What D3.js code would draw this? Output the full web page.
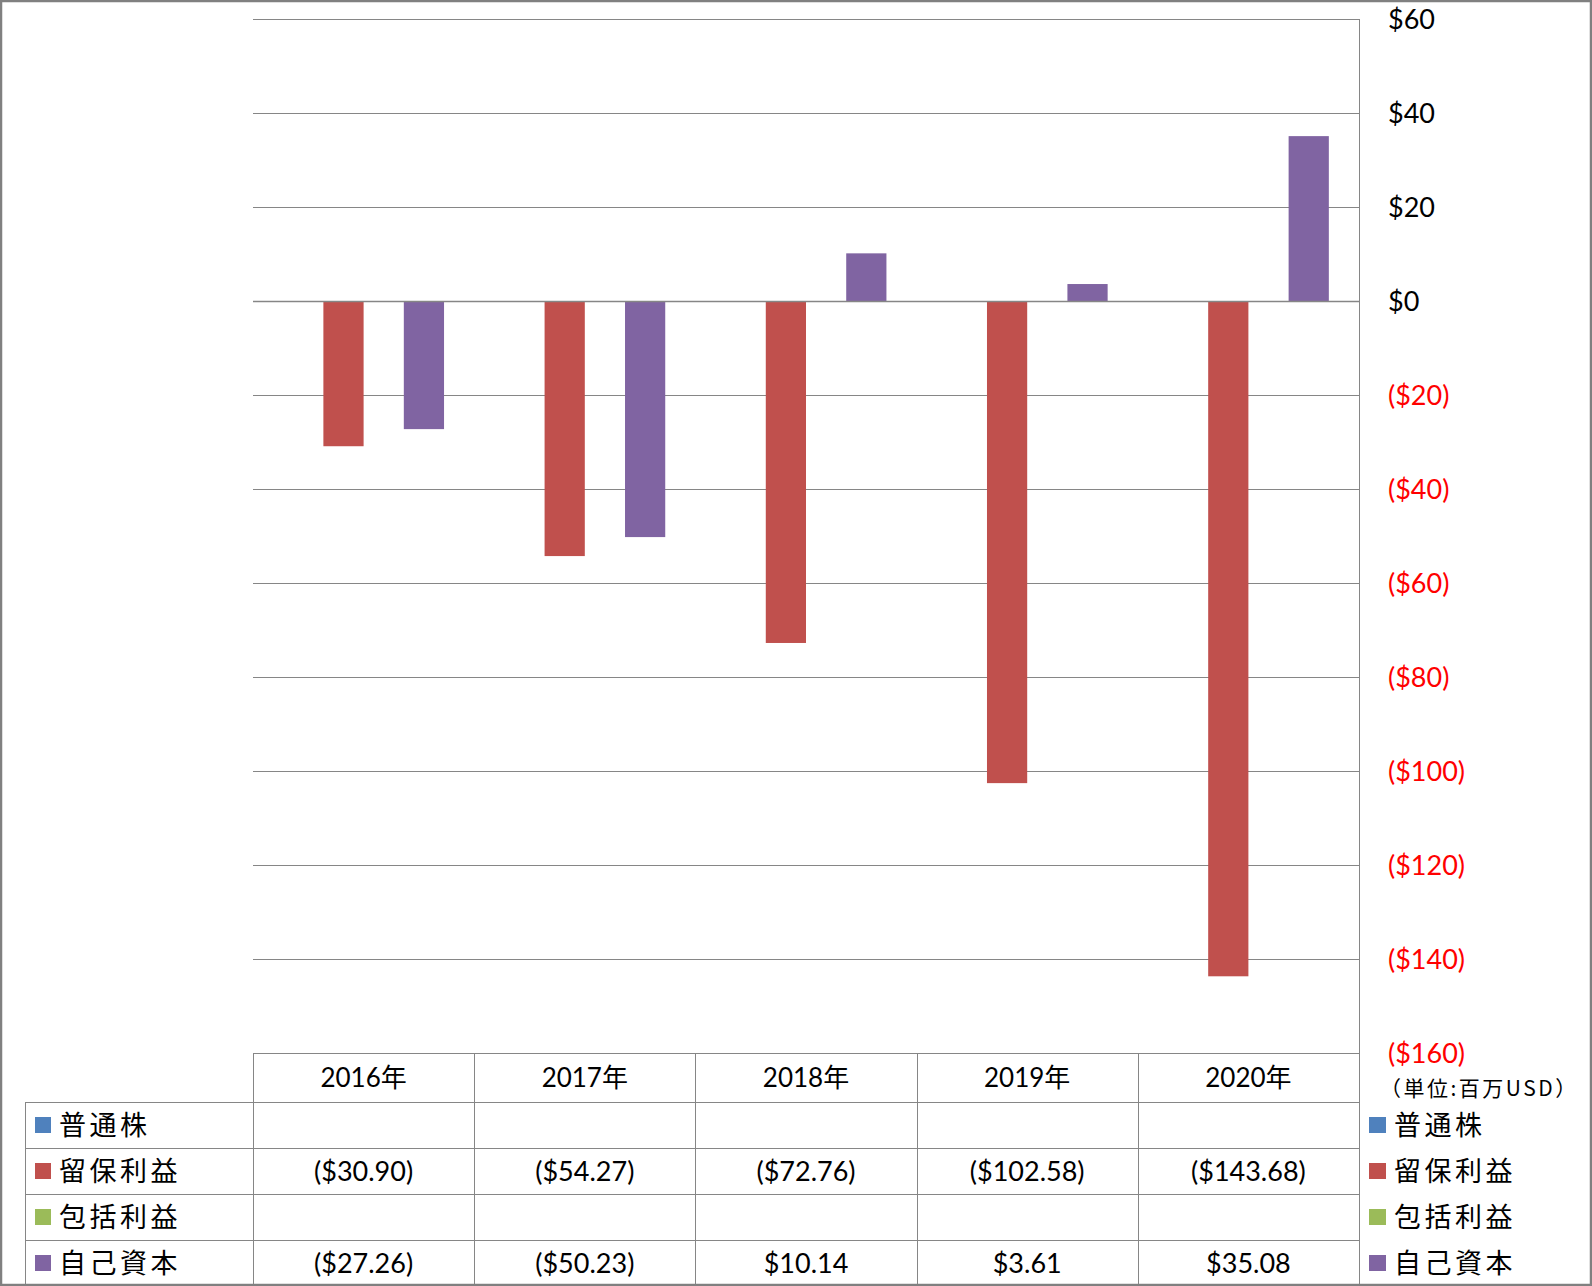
<!DOCTYPE html>
<html>
<head>
<meta charset="utf-8">
<script src="https://cdn.jsdelivr.net/npm/d3@7"></script>
<style>
  html, body { margin: 0; padding: 0; background: #fff; }
  svg { display: block; }
</style>
</head>
<body>
<svg id="chart" width="1592" height="1286"></svg>
<script>
// ---- data ----
const categories = ["2016年", "2017年", "2018年", "2019年", "2020年"];
const seriesNames = ["普通株", "留保利益", "包括利益", "自己資本"];
const seriesColors = ["#4F81BD", "#C0504D", "#9BBB59", "#8064A2"];
const commonStock = [null, null, null, null, null];
const retainedEarnings = [-30.90, -54.27, -72.76, -102.58, -143.68];
const comprehensiveIncome = [null, null, null, null, null];
const equity = [-27.26, -50.23, 10.14, 3.61, 35.08];
const yTicks = [-160, -140, -120, -100, -80, -60, -40, -20, 0, 20, 40, 60];
const unitLabel = "（単位:百万USD）";

const seriesValues = [commonStock, retainedEarnings, comprehensiveIncome, equity];

// ---- layout ----
const W = 1592, H = 1286;
const plotL = 253, plotR = 1359, plotT = 19, plotB = 1053;
const tableLeft = 25;
const headerBottom = 1102;
const rowH = (H - headerBottom) / 4;
const gridColor = "#868686";
const numFont = "Lato, 'Noto Sans CJK JP', sans-serif";
const jpFont = "'Noto Sans CJK JP', sans-serif";

const svg = d3.select("#chart");

const x0 = d3.scaleBand().domain(categories).range([plotL, plotR]).paddingInner(0).paddingOuter(0);
const x1 = d3.scaleBand().domain(seriesNames).range([0, x0.bandwidth()]).paddingInner(0).paddingOuter(0.75);
const y = d3.scaleLinear().domain([-160, 60]).range([plotB, plotT]);

// gridlines
svg.append("g").selectAll("line").data(yTicks).join("line")
  .attr("x1", plotL).attr("x2", plotR)
  .attr("y1", d => Math.round(y(d)) + 0.5).attr("y2", d => Math.round(y(d)) + 0.5)
  .attr("stroke", gridColor).attr("stroke-width", 1);

// bars
const barData = [];
seriesNames.forEach((s, si) => {
  categories.forEach((c, ci) => {
    const v = seriesValues[si][ci];
    if (v !== null && v !== undefined) barData.push({ s, si, c, v });
  });
});
svg.append("g").selectAll("rect").data(barData).join("rect")
  .attr("x", d => x0(d.c) + x1(d.s))
  .attr("width", x1.bandwidth())
  .attr("y", d => y(Math.max(0, d.v)))
  .attr("height", d => Math.abs(y(d.v) - y(0)))
  .attr("fill", d => seriesColors[d.si]);

// zero line on top
svg.append("line")
  .attr("x1", plotL).attr("x2", plotR)
  .attr("y1", Math.round(y(0)) + 0.5).attr("y2", Math.round(y(0)) + 0.5)
  .attr("stroke", gridColor).attr("stroke-width", 1.5);

// right axis line
svg.append("line")
  .attr("x1", plotR + 0.5).attr("x2", plotR + 0.5)
  .attr("y1", plotT).attr("y2", H)
  .attr("stroke", gridColor).attr("stroke-width", 1);

// y tick labels
const fmt = v => v >= 0 ? "$" + v : "($" + (-v) + ")";
svg.append("g").selectAll("text").data(yTicks).join("text")
  .attr("x", 1388)
  .attr("y", d => y(d))
  .attr("dy", "0.36em")
  .attr("font-family", numFont)
  .attr("font-size", 27)
  .attr("fill", d => d < 0 ? "#FF0000" : "#000")
  .text(fmt);

// unit label
svg.append("text")
  .attr("x", 1380).attr("y", 1088).attr("dy", "0.36em")
  .attr("font-family", jpFont).attr("font-size", 21).attr("letter-spacing", 2.5)
  .attr("fill", "#000")
  .text(unitLabel);

// ---- data table ----
const tg = svg.append("g");
tg.append("line").attr("x1", plotL).attr("x2", plotR).attr("y1", plotB + 0.5).attr("y2", plotB + 0.5)
  .attr("stroke", gridColor);
d3.range(4).forEach(i => {
  const yy = Math.round(headerBottom + i * rowH) + 0.5;
  tg.append("line").attr("x1", tableLeft).attr("x2", plotR).attr("y1", yy).attr("y2", yy).attr("stroke", gridColor);
});
categories.forEach(c => {
  const xx = Math.round(x0(c)) + 0.5;
  tg.append("line").attr("x1", xx).attr("x2", xx).attr("y1", plotB).attr("y2", H).attr("stroke", gridColor);
});
tg.append("line").attr("x1", tableLeft + 0.5).attr("x2", tableLeft + 0.5).attr("y1", headerBottom).attr("y2", H).attr("stroke", gridColor);

// headers
tg.selectAll("text.hdr").data(categories).join("text").attr("class", "hdr")
  .attr("x", d => x0(d) + x0.bandwidth() / 2)
  .attr("y", (plotB + headerBottom) / 2).attr("dy", "0.36em")
  .attr("text-anchor", "middle")
  .attr("font-family", numFont).attr("font-size", 26)
  .text(d => d);

const cellFmt = v => v < 0 ? "($" + (-v).toFixed(2) + ")" : "$" + v.toFixed(2);
seriesNames.forEach((s, si) => {
  const cy = headerBottom + si * rowH + rowH / 2;
  tg.append("rect").attr("x", 35).attr("y", cy - 8).attr("width", 16).attr("height", 16).attr("fill", seriesColors[si]);
  tg.append("text").attr("x", 59).attr("y", cy).attr("dy", "0.36em")
    .attr("font-family", jpFont).attr("font-size", 27).attr("letter-spacing", 3.5)
    .text(s);
  categories.forEach((c, ci) => {
    const v = seriesValues[si][ci];
    if (v === null || v === undefined) return;
    tg.append("text")
      .attr("x", x0(c) + x0.bandwidth() / 2).attr("y", cy).attr("dy", "0.36em")
      .attr("text-anchor", "middle")
      .attr("font-family", numFont).attr("font-size", 27)
      .text(cellFmt(v));
  });
  svg.append("rect").attr("x", 1369).attr("y", cy - 8).attr("width", 17).attr("height", 16).attr("fill", seriesColors[si]);
  svg.append("text").attr("x", 1394).attr("y", cy).attr("dy", "0.36em")
    .attr("font-family", jpFont).attr("font-size", 27).attr("letter-spacing", 3.5)
    .text(s);
});

// outer border
svg.append("rect").attr("x", 1).attr("y", 1).attr("width", W - 2).attr("height", H - 2)
  .attr("fill", "none").attr("stroke", "#808080").attr("stroke-width", 2.5);
</script>
</body>
</html>
